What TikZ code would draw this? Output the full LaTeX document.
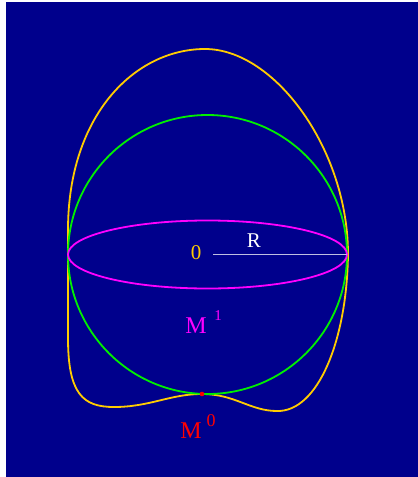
\documentclass[tikz,border=0pt]{standalone}
\usepackage{fontspec}
\setmainfont{Liberation Serif}
\definecolor{bgblue}{RGB}{0,0,140}
\definecolor{curvegold}{RGB}{255,204,0}
\definecolor{spheregreen}{RGB}{0,240,0}
\definecolor{eqmagenta}{RGB}{255,0,255}
\definecolor{radgray}{RGB}{190,190,225}
\tikzset{
  curve/.style={line width=1.8pt},
  lbl/.style={inner sep=0pt, font=\fontsize{21}{21}\selectfont},
  suplbl/.style={inner sep=0pt, font=\fontsize{15}{15}\selectfont}
}
\begin{document}
\begin{tikzpicture}[x=1pt,y=-1pt]
\useasboundingbox (0,0) rectangle (418,477);
\fill[white] (0,0) rectangle (418,477);
\fill[bgblue] (5.5,1.5) rectangle (418,477);
% gold deformed curve
\draw[curve, curvegold, line join=round]
  (205,49) .. controls (135,49) and (68,115) .. (68,230)
  -- (68,338)
  .. controls (68,394) and (83,407) .. (114,407)
  .. controls (150,407) and (170,394) .. (202,394)
  .. controls (235,394) and (250,411) .. (277,411)
  .. controls (318,412) and (347,340) .. (348,254)
  .. controls (348,150) and (275,49) .. (205,49) -- cycle;
% green circle
\draw[curve, spheregreen] (207.5,254.5) circle [radius=139.5];
% magenta ellipse
\draw[curve, eqmagenta] (207.5,254.5) ellipse [x radius=139.5, y radius=34];
% radius line
\coordinate (rstart) at (213,254.5);
\coordinate (rend) at (347,254.5);
\draw[radgray, line width=1.2pt] (rstart) -- (rend);
% red point
\fill[red] (202,394) circle [radius=2.3];
% labels
\node[lbl, text=curvegold] (zero) at (196,253) {0};
\node[lbl, text=white] (rlab) at (254,241) {R};
\node[lbl, text=eqmagenta, font=\fontsize{24}{24}\selectfont] (m1) at (196,326) {M};
\node[suplbl, text=eqmagenta] (m1s) at (218,316) {1};
\node[lbl, text=red, font=\fontsize{24}{24}\selectfont] (m0) at (191,431) {M};
\node[suplbl, text=red, font=\fontsize{18}{18}\selectfont] (m0s) at (211,421) {0};
\end{tikzpicture}
\end{document}
